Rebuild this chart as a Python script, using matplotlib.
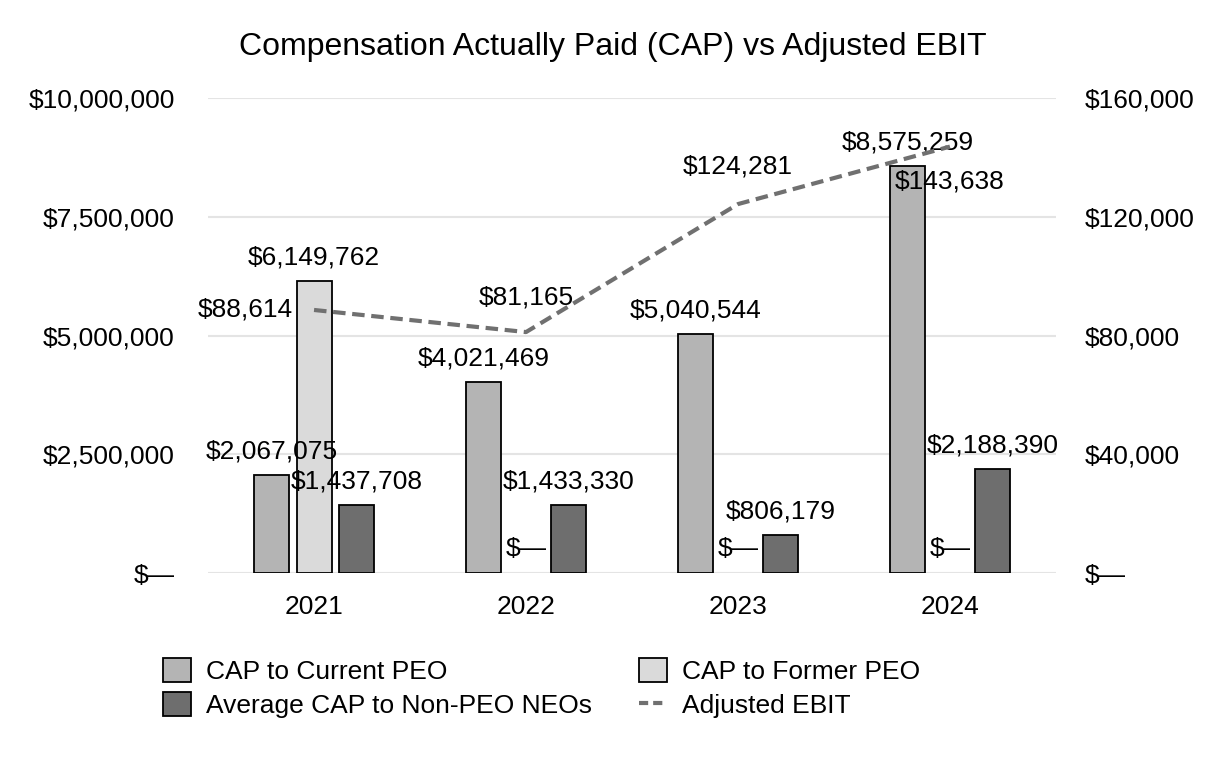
import numpy as np
import matplotlib
matplotlib.use('Agg')
import matplotlib.pyplot as plt
from matplotlib.ticker import FuncFormatter
from matplotlib.patches import Patch
from matplotlib.lines import Line2D

plt.rcParams['font.family'] = ['Liberation Sans', 'DejaVu Sans']

years = ['2021', '2022', '2023', '2024']
cap_current_peo = [2067075, 4021469, 5040544, 8575259]
cap_former_peo = [6149762, 0, 0, 0]
cap_non_peo = [1437708, 1433330, 806179, 2188390]
adjusted_ebit = [88614, 81165, 124281, 143638]

c_current = '#b4b4b4'
c_former = '#dadada'
c_neo = '#6e6e6e'
c_line = '#707070'


def money(v, pos=None):
    if v == 0:
        return '$\u2014'
    return '${:,.0f}'.format(v)


fig = plt.figure(figsize=(12.26, 7.6), dpi=100)
ax = fig.add_axes([0.1697, 0.246, 0.6916, 0.625])
ax2 = ax.twinx()

x = np.arange(len(years))
w = 0.165
off = 0.2
fs = 19

series = [(-off, cap_current_peo, c_current), (0, cap_former_peo, c_former), (off, cap_non_peo, c_neo)]
for o, vals, col in series:
    vals = np.array(vals)
    nz = vals > 0
    # zero values get no bar, only the label
    ax.bar(x[nz] + o, vals[nz], w, color=col, edgecolor='black', linewidth=1.3, zorder=3)
    for xx, v in zip(x + o, vals):
        ax.annotate(money(v), (xx, v), xytext=(0, 17), textcoords='offset points',
                    ha='center', va='center', fontsize=fs, zorder=5)

ax.set_xlim(-0.5, 3.5)
ax.set_ylim(0, 10000000)
ax.set_yticks([0, 2500000, 5000000, 7500000, 10000000])
ax.yaxis.set_major_formatter(FuncFormatter(money))
ax.set_xticks(x)
ax.set_xticklabels(years)
ax.grid(axis='y', color='#e4e4e4', linewidth=1.5, zorder=0)
ax.set_axisbelow(True)

ax2.plot(x, adjusted_ebit, color=c_line, linewidth=3, dashes=(3, 1.6), zorder=4)
ax2.set_ylim(0, 160000)
ax2.set_yticks([0, 40000, 80000, 120000, 160000])
ax2.yaxis.set_major_formatter(FuncFormatter(money))

# EBIT labels
ebit_pos = [((-15, 0), 'right'), ((0, 25), 'center'), ((0, 27), 'center'), ((0, -25), 'center')]
for i, v in enumerate(adjusted_ebit):
    (dx, dy), ha = ebit_pos[i]
    ax2.annotate(money(v), (x[i], v), xytext=(dx, dy), textcoords='offset points',
                 ha=ha, va='center', fontsize=fs, zorder=6)

for a in (ax, ax2):
    for s in a.spines.values():
        s.set_visible(False)
    a.tick_params(length=0, labelsize=fs)
ax.tick_params(axis='y', pad=24)
ax.tick_params(axis='x', pad=16)
ax2.tick_params(axis='y', pad=21)

fig.suptitle('Compensation Actually Paid (CAP) vs Adjusted EBIT', fontsize=23, x=0.5, y=0.958)

handles = [
    Patch(facecolor=c_current, edgecolor='black', linewidth=1.3, label='CAP to Current PEO'),
    Patch(facecolor=c_neo, edgecolor='black', linewidth=1.3, label='Average CAP to Non-PEO NEOs'),
    Patch(facecolor=c_former, edgecolor='black', linewidth=1.3, label='CAP to Former PEO'),
    Line2D([0], [0], color=c_line, linewidth=3, dashes=(2.2, 1.2), label='Adjusted EBIT'),
]
fig.legend(handles=handles, ncol=2, loc='upper left', bbox_to_anchor=(163 / 1226, 1 - 658 / 760),
           bbox_transform=fig.transFigure, frameon=False, fontsize=fs, borderpad=0, borderaxespad=0,
           handlelength=1.05, handleheight=1.0, handletextpad=0.57, columnspacing=1.8,
           labelspacing=0.32)

fig.savefig('out.png', dpi=100)
